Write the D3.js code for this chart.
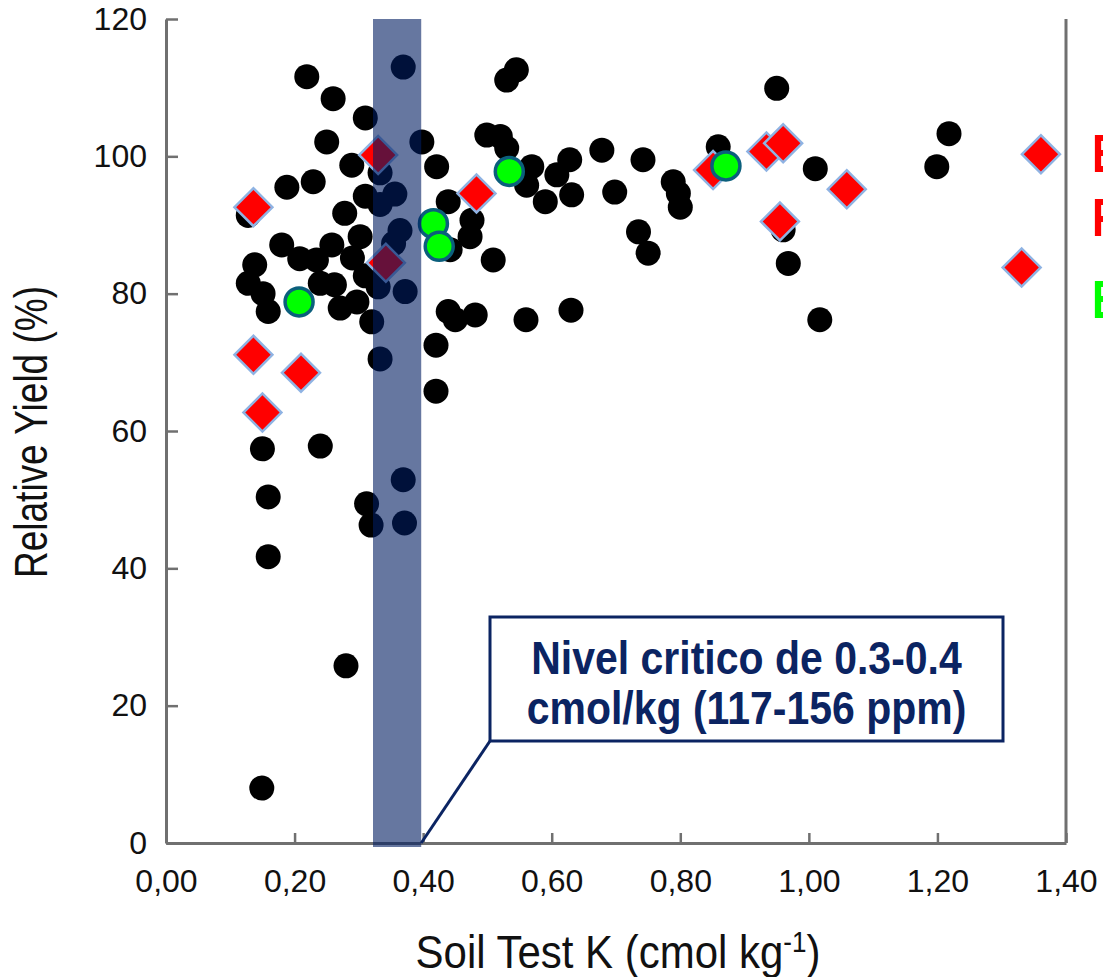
<!DOCTYPE html>
<html>
<head>
<meta charset="utf-8">
<script src="https://cdn.jsdelivr.net/npm/d3@7"></script>
<style>
  html, body { margin: 0; padding: 0; background: #fff; overflow: hidden; }
  svg { display: block; }
</style>
</head>
<body>
<script>
// Soil test K (cmol/kg) vs relative yield (%) observations
const blackPoints = [
  [0.219,111.6],[0.369,113.0],[0.260,108.4],[0.310,105.6],[0.250,102.1],[0.289,98.7],
  [0.398,102.1],[0.421,98.5],[0.530,111.1],[0.545,112.6],
  [0.950,109.9],[1.218,103.3],[1.199,98.5],[1.010,98.2],[0.859,101.4],
  [0.499,103.1],[0.520,102.9],[0.530,101.2],
  [0.569,98.5],[0.561,95.8],[0.590,93.4],[0.608,97.3],[0.628,99.5],[0.631,94.4],
  [0.678,100.9],[0.742,99.5],[0.698,94.8],
  [0.789,96.3],[0.797,94.6],[0.800,92.6],
  [0.960,89.3],[0.968,84.4],[1.017,76.2],
  [0.735,89.0],[0.750,85.9],
  [0.439,93.4],[0.476,90.7],[0.473,88.3],[0.442,86.4],[0.509,84.9],
  [0.439,77.4],[0.450,76.2],[0.481,76.9],[0.560,76.2],[0.630,77.6],[0.420,72.5],
  [0.356,94.5],[0.364,89.2],[0.372,80.3],
  [0.333,97.6],[0.333,93.0],[0.310,94.2],[0.354,87.3],[0.330,81.0],[0.333,70.5],
  [0.369,52.9],[0.371,46.6],[0.312,49.4],[0.319,46.3],
  [0.188,95.5],[0.229,96.3],[0.128,91.4],[0.278,91.7],
  [0.180,87.1],[0.208,85.1],[0.234,84.9],[0.258,87.1],[0.302,88.3],[0.290,85.2],[0.310,82.6],
  [0.138,84.2],[0.128,81.5],[0.151,80.0],[0.159,77.4],
  [0.240,81.5],[0.262,81.3],[0.271,77.9],[0.297,78.8],[0.320,75.9],
  [0.420,65.8],[0.150,57.4],[0.240,57.8],[0.159,50.4],[0.159,41.7],[0.280,25.8],[0.149,8.0]
];
const redPoints = [
  [0.136,92.6],[0.330,100.2],[0.342,84.5],[0.136,71.1],[0.210,68.5],[0.150,62.7],
  [0.483,94.6],[0.851,98.0],[0.934,100.7],[0.960,101.9],[0.955,90.5],[1.059,95.2],
  [1.331,83.8],[1.361,100.3]
];
const greenPoints = [
  [0.207,78.8],[0.416,90.2],[0.425,86.9],[0.534,97.8],[0.871,98.6]
];
const criticalRange = [0.322, 0.397];
const xTicks = [0, 0.2, 0.4, 0.6, 0.8, 1.0, 1.2, 1.4];
const yTicks = [0, 20, 40, 60, 80, 100, 120];
const calloutLines = ["Nivel critico de 0.3-0.4", "cmol/kg (117-156 ppm)"];
const legendLetters = [
  { text: "E", color: "#ff0000" },
  { text: "F", color: "#ff0000" },
  { text: "E", color: "#00ff00" }
];

const W = 1103, H = 977;
const svg = d3.select("body").append("svg").attr("width", W).attr("height", H);

const x = d3.scaleLinear().domain([0, 1.4]).range([166, 1066]);
const y = d3.scaleLinear().domain([0, 120]).range([843, 19]);

const axisColor = "#707070";
const fontFamily = "'Liberation Sans', Arial, sans-serif";

// Right frame edge
svg.append("line")
  .attr("x1", x(1.4)).attr("x2", x(1.4))
  .attr("y1", y(120)).attr("y2", y(0))
  .attr("stroke", axisColor).attr("stroke-width", 3);

// Axes
const fmtX = v => d3.format(".2f")(v).replace(".", ",");
const gx = svg.append("g").attr("transform", `translate(0,${y(0)})`)
  .call(d3.axisBottom(x).tickValues(xTicks).tickFormat(fmtX)
    .tickSizeInner(-10).tickSizeOuter(0).tickPadding(26));
const gy = svg.append("g").attr("transform", `translate(${x(0)},0)`)
  .call(d3.axisLeft(y).tickValues(yTicks).tickFormat(d3.format("d"))
    .tickSizeInner(-12).tickSizeOuter(0).tickPadding(19));

[gx, gy].forEach(g => {
  g.select(".domain").attr("stroke", axisColor).attr("stroke-width", 3);
  g.selectAll(".tick line").attr("stroke", axisColor).attr("stroke-width", 2.5);
  g.selectAll(".tick text").attr("fill", "#111")
    .style("font-family", fontFamily).style("font-size", "32px");
});

// Axis titles
svg.append("text")
  .attr("transform", "translate(618,968) scale(1,1.1)")
  .attr("text-anchor", "middle")
  .style("font-family", fontFamily).style("font-size", "42px").attr("fill", "#111")
  .call(t => {
    t.append("tspan").text("Soil Test K (cmol kg");
    t.append("tspan").attr("dy", -15).style("font-size", "26px").text("-1");
    t.append("tspan").attr("dy", 15).text(")");
  });

svg.append("text")
  .attr("transform", "translate(47,432) rotate(-90) scale(1,1.25)")
  .attr("text-anchor", "middle")
  .style("font-family", fontFamily).style("font-size", "37px").attr("fill", "#111")
  .text("Relative Yield (%)");

// Observations
const plot = svg.append("g");
plot.selectAll("circle.obs").data(blackPoints).join("circle")
  .attr("class", "obs")
  .attr("cx", d => x(d[0])).attr("cy", d => y(d[1]))
  .attr("r", 12.5).attr("fill", "#000");

const diamond = d3.symbol().type(d3.symbolSquare).size(720);
plot.selectAll("path.red").data(redPoints).join("path")
  .attr("class", "red")
  .attr("transform", d => `translate(${x(d[0])},${y(d[1])}) rotate(45)`)
  .attr("d", diamond)
  .attr("fill", "#ff0000").attr("stroke", "#8fb3e3").attr("stroke-width", 2.5);

plot.selectAll("circle.green").data(greenPoints).join("circle")
  .attr("class", "green")
  .attr("cx", d => x(d[0])).attr("cy", d => y(d[1]))
  .attr("r", 14).attr("fill", "#00ff00")
  .attr("stroke", "#0b5f7c").attr("stroke-width", 3.5);

// Critical level band
svg.append("rect")
  .attr("x", x(criticalRange[0])).attr("width", x(criticalRange[1]) - x(criticalRange[0]))
  .attr("y", y(120)).attr("height", y(0) - y(120) + 4)
  .attr("fill", "rgb(0,28,97)").attr("fill-opacity", 0.6);

// Callout
const box = { x0: 490, y0: 617, x1: 1003, y1: 741 };
const navy = "#0b2462";
svg.append("line")
  .attr("x1", box.x0).attr("y1", box.y1)
  .attr("x2", x(criticalRange[1])).attr("y2", y(0))
  .attr("stroke", navy).attr("stroke-width", 3);
svg.append("rect")
  .attr("x", box.x0).attr("y", box.y0)
  .attr("width", box.x1 - box.x0).attr("height", box.y1 - box.y0)
  .attr("fill", "#fff").attr("stroke", navy).attr("stroke-width", 3);
calloutLines.forEach((line, i) => {
  svg.append("text")
    .attr("transform", `translate(${(box.x0 + box.x1) / 2},${674 + i * 50}) scale(1,1.12)`)
    .attr("text-anchor", "middle")
    .style("font-family", fontFamily).style("font-weight", "bold").style("font-size", "41px")
    .attr("fill", navy).text(line);
});

// Series labels at the right edge
const legendBaselines = [172, 236, 318];
legendLetters.forEach((d, i) => {
  svg.append("text")
    .attr("transform", `translate(1092,${legendBaselines[i]}) scale(0.8,1)`)
    .style("font-family", fontFamily).style("font-weight", "bold").style("font-size", "54px")
    .attr("fill", d.color).text(d.text);
});
</script>
</body>
</html>
